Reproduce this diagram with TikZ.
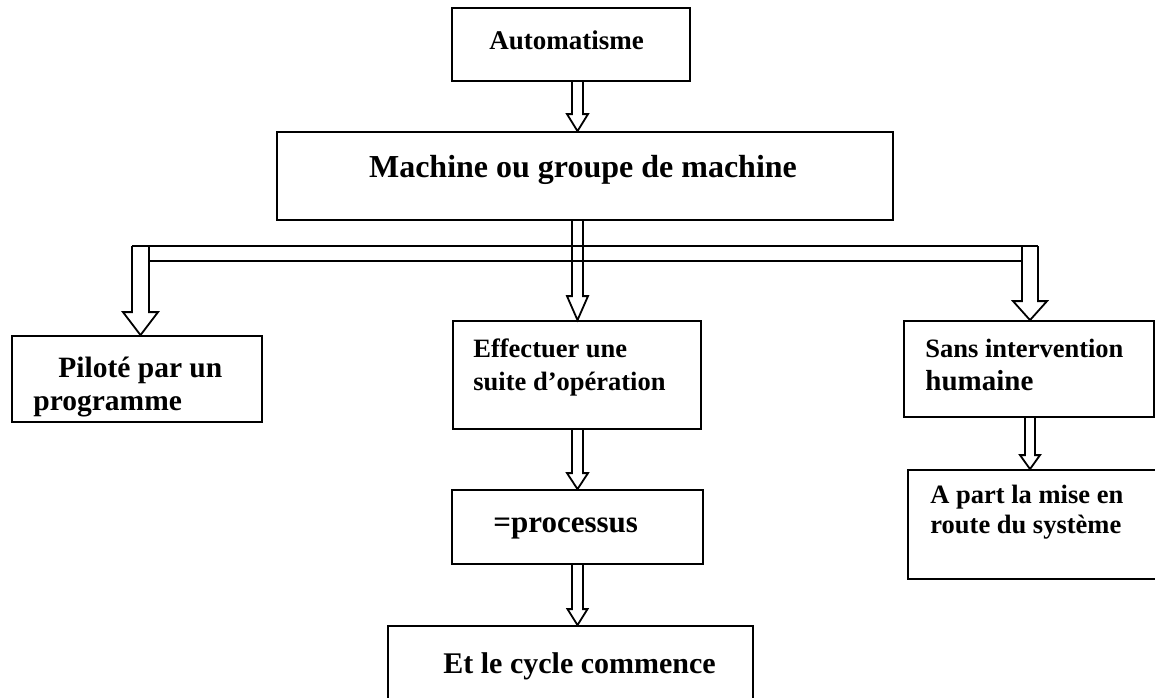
\documentclass[tikz,border=0pt]{standalone}
\usepackage{fontspec}
\setmainfont{Liberation Serif}
\usetikzlibrary{calc,fit,positioning}
\tikzset{
	boite/.style={
		draw, rectangle, line width=0.9pt,
		inner sep=0pt
	},
	texte/.style={
		anchor=base west, inner sep=0pt,
		font=\bfseries
	},
	fleche/.style={draw, line width=0.9pt, line join=miter}
}
% fleche creuse : depart, pointe, demi-tige, demi-tete, longueur de tete
\newcommand{\flechebloc}[5]{%
	\draw[fleche] ($(#1)+(-#3,0)$) -- ($(#2)+(-#3,-#5)$) -- ($(#2)+(-#4,-#5)$) -- (#2)
		-- ($(#2)+(#4,-#5)$) -- ($(#2)+(#3,-#5)$) -- ($(#1)+(#3,0)$);}
\newcommand{\taille}[1]{\fontsize{#1}{#1}\selectfont}

\begin{document}
\begin{tikzpicture}[x=0.5pt,y=-0.5pt]
	\useasboundingbox (0,0) rectangle (1155,697);
	% boites
	\node[boite, fit={(452,8) (690,81)}]     (auto)    {};
	\node[boite, fit={(277,132) (893,220)}]  (machine) {};
	\node[boite, fit={(12,336) (262,422)}]   (pilote)  {};
	\node[boite, fit={(453,321) (701,429)}]  (effect)  {};
	\node[boite, fit={(904,321) (1154,417)}] (sans)    {};
	\node[boite, fit={(908,470) (1162,579)}] (apart)   {};
	\node[boite, fit={(452,490) (703,564)}]  (process) {};
	\node[boite, fit={(388,626) (753,720)}]  (cycle)   {};
	% textes
	\node[texte, font=\bfseries\taille{13.5}] (autoT) at (489,49) {Automatisme};
	\node[texte, anchor=base, font=\bfseries\taille{16}] (machineT) at (583,177) {Machine ou groupe de machine};
	\node[texte, font=\bfseries\taille{14.75}] (piloteA) at (58,377) {Pilot\'e par un};
	\node[texte, font=\bfseries\taille{14.75}] (piloteB) at (33,410) {programme};
	\node[texte, font=\bfseries\taille{13.25}] (effectA) at (473,357) {Effectuer une};
	\node[texte, font=\bfseries\taille{13.25}] (effectB) at (473,390) {suite d’op\'eration};
	\node[texte, font=\bfseries\taille{13.25}] (sansA) at (925,357) {Sans intervention};
	\node[texte, font=\bfseries\taille{14.5}] (sansB) at (925,390) {humaine};
	\node[texte, font=\bfseries\taille{13.25}] (apartA) at (930,503) {A part la mise en};
	\node[texte, font=\bfseries\taille{13.25}] (apartB) at (930,533) {route du syst\`eme};
	\node[texte, font=\bfseries\taille{15.5}] (processT) at (493,532) {=processus};
	\node[texte, font=\bfseries\taille{15}] (cycleT) at (443,673) {Et le cycle commence};
	% axes des fleches
	\coordinate (axe)   at (577.5,0);
	\coordinate (axeG)  at (140.5,0);
	\coordinate (axeD)  at (1030,0);
	\coordinate (barre) at (0,246);
	% barre de repartition
	\draw[fleche] ($(axeG|-barre)+(-8.5,0)$) -- ($(axeD|-barre)+(8,0)$);
	\draw[fleche] ($(axeG|-barre)+(8.5,15)$) -- ($(axeD|-barre)+(-8,15)$);
	% fleches
	\flechebloc{axe|-auto.south}{axe|-machine.north}{5.5}{10.5}{17}
	\flechebloc{axe|-machine.south}{axe|-effect.north}{5.5}{10.5}{24}
	\flechebloc{axeG|-barre}{axeG|-pilote.north}{8.5}{17.5}{23}
	\flechebloc{axeD|-barre}{axeD|-sans.north}{8}{17}{19}
	\flechebloc{axe|-effect.south}{axe|-process.north}{5.5}{10.5}{16}
	\flechebloc{axe|-process.south}{axe|-cycle.north}{5.5}{10}{16}
	\flechebloc{axeD|-sans.south}{axeD|-apart.north}{5}{10}{14}
\end{tikzpicture}
\end{document}
